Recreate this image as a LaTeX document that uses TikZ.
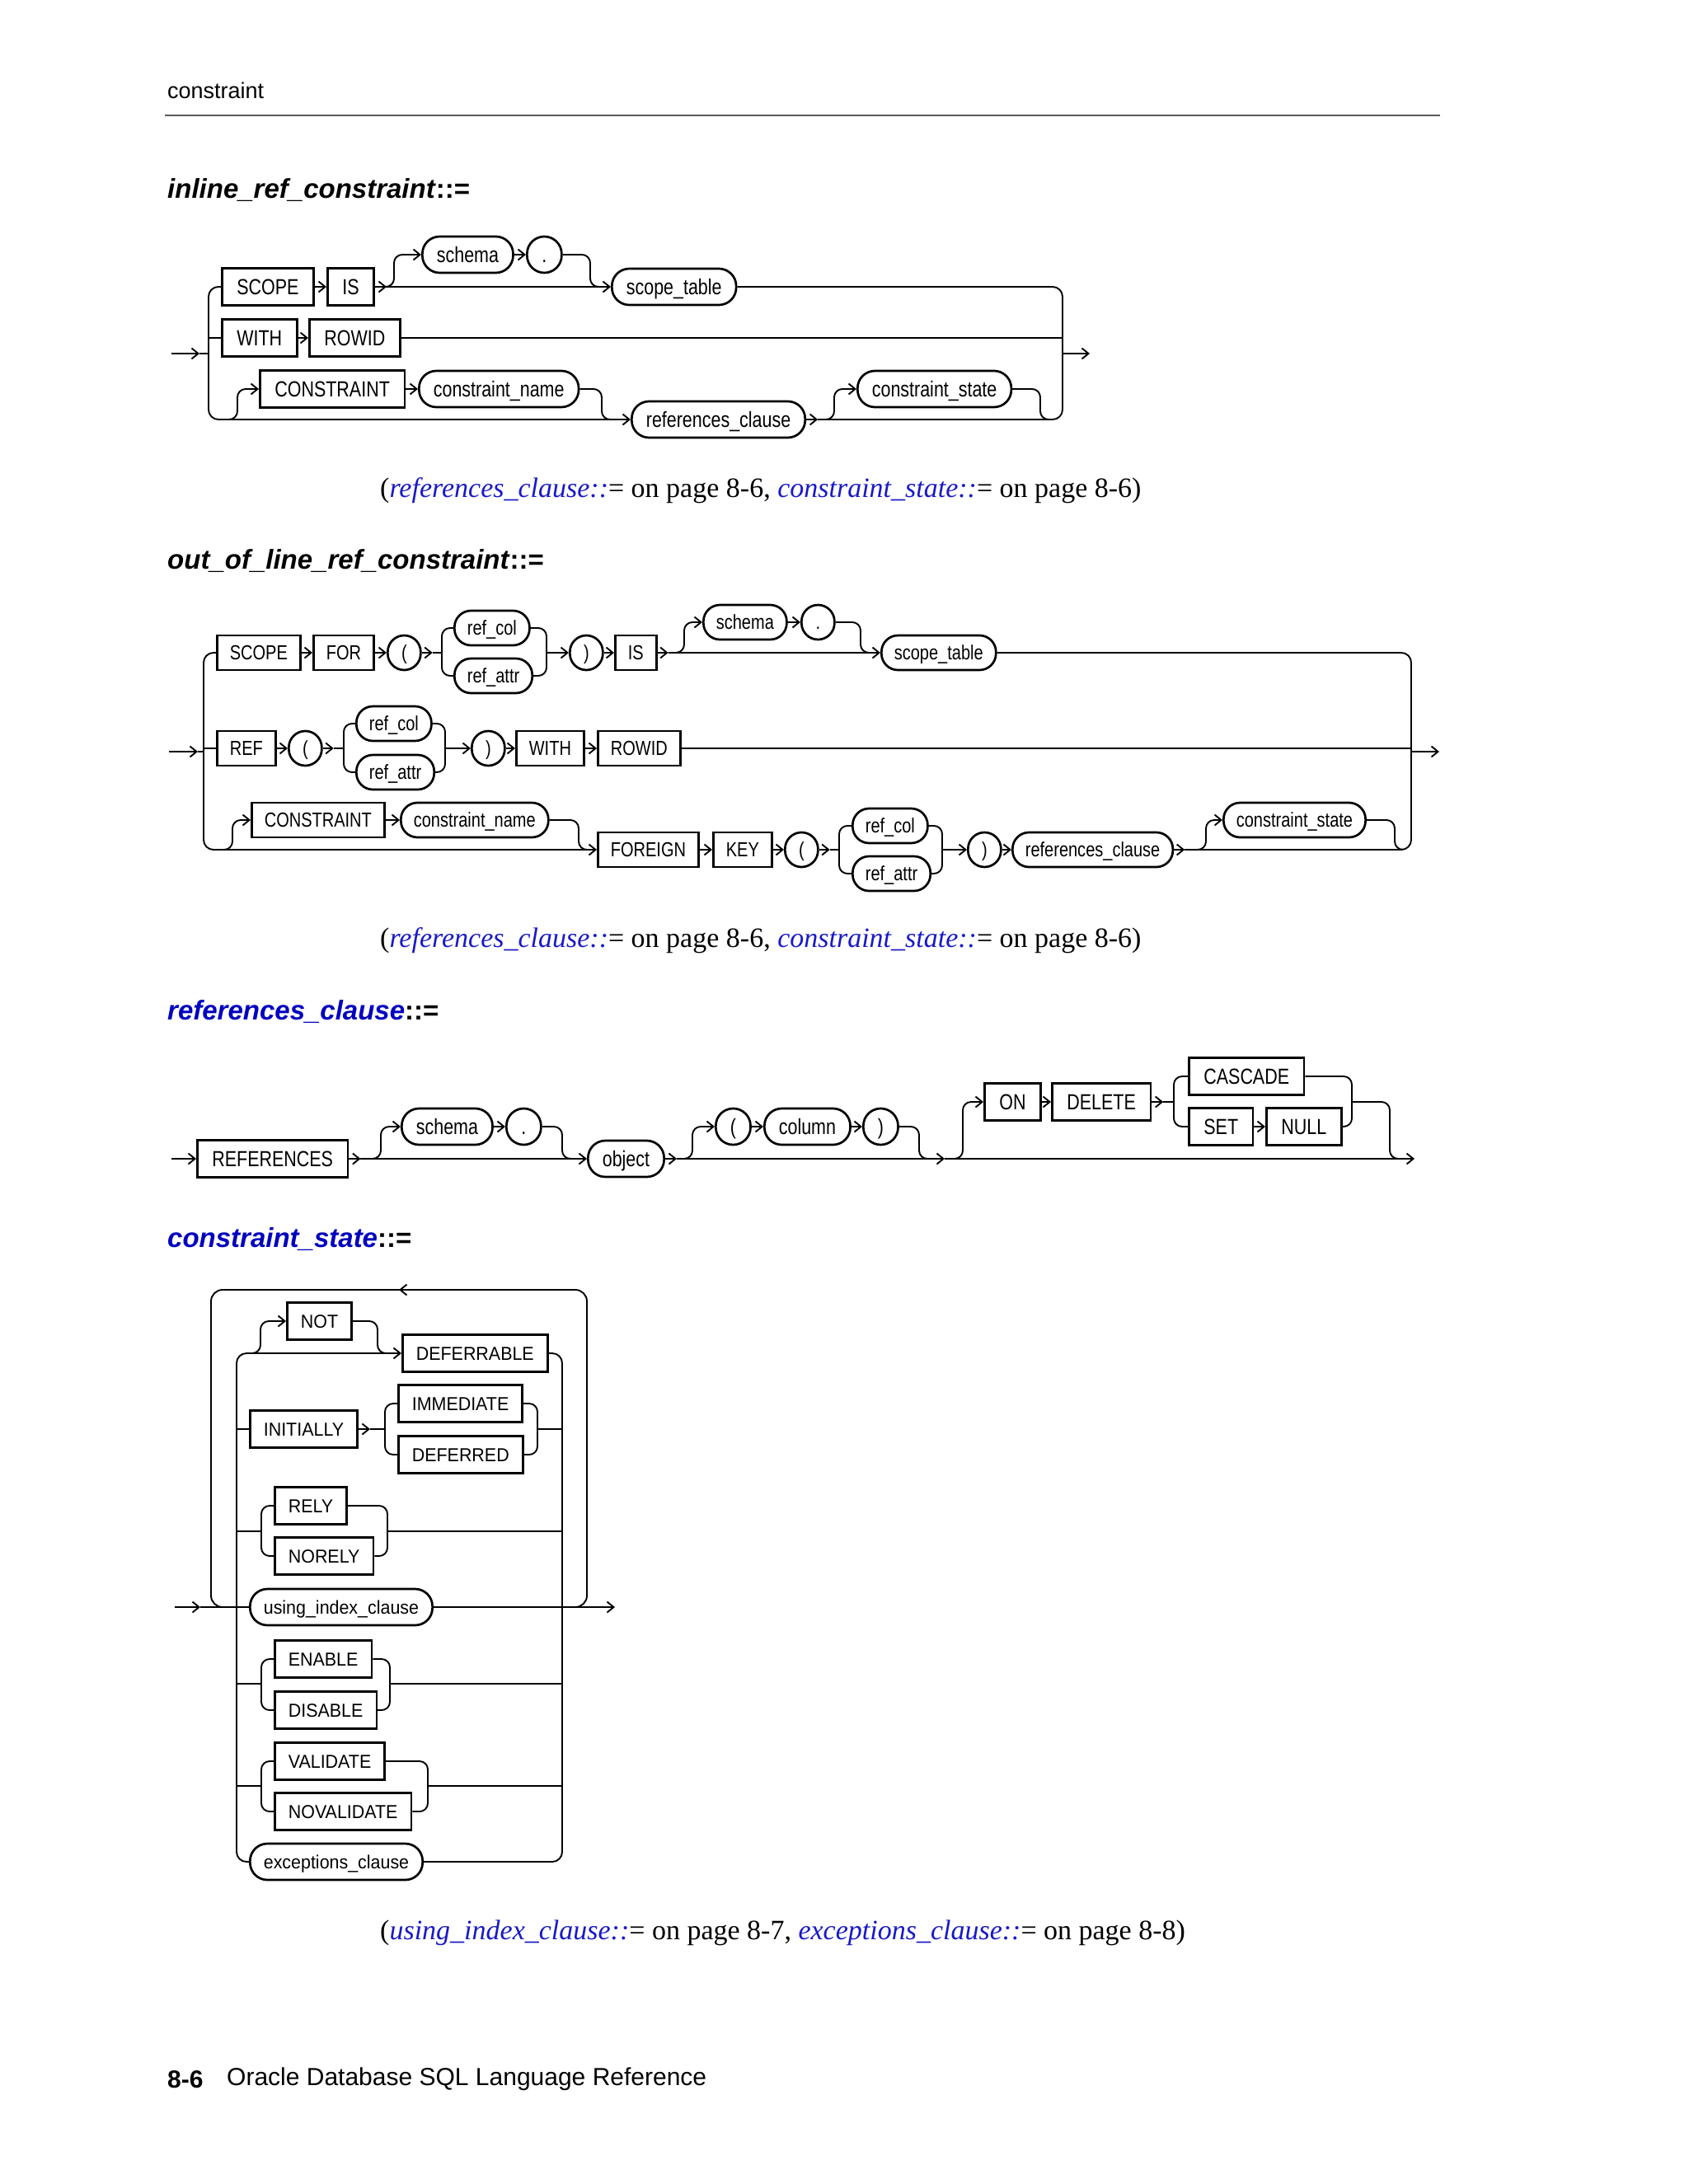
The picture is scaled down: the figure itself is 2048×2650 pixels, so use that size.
\documentclass[tikz,border=0pt]{standalone}
\usepackage{fontspec}
\setmainfont{Liberation Sans}
\newfontfamily\rrf{Liberation Sans}
\newfontfamily\rrc[FakeStretch=0.81]{Liberation Sans}
\newfontfamily\rrd[FakeStretch=0.94]{Liberation Sans}
\newfontfamily\serf{Liberation Serif}
\usetikzlibrary{arrows.meta}
\definecolor{lnk}{RGB}{25,25,200}
\definecolor{ttl}{RGB}{0,0,190}
\tikzset{
  rr/.style={line width=1.9pt, line join=round},
  arr/.style={-{Straight Barb[length=8pt,width=13pt]}},
  kw/.style={draw, rectangle, line width=2.7pt, inner xsep=18pt, inner ysep=0pt,
    minimum height=45pt, text height=24pt, text depth=5pt, anchor=west,
    font=\rrc\fontsize{26.5pt}{30pt}\selectfont},
  nt/.style={kw, inner xsep=17.5pt, rounded corners=21pt, minimum width=42pt, minimum height=44pt},
  kwb/.style={kw, inner xsep=15.5pt, minimum height=42pt, text height=22pt, text depth=4.5pt,
    font=\rrc\fontsize{24.7pt}{28pt}\selectfont},
  ntb/.style={kwb, rounded corners=20pt, minimum width=40pt},
  kwd/.style={kw, inner xsep=16.5pt, text height=20.5pt, text depth=4pt,
    font=\rrd\fontsize{22.8pt}{26pt}\selectfont},
  ntd/.style={kwd, rounded corners=21pt, minimum height=44pt},
  ttlnode/.style={anchor=west, inner sep=0pt, font=\rrf\bfseries\itshape\fontsize{33pt}{37pt}\selectfont},
  capnode/.style={anchor=west, inner sep=0pt, font=\serf\fontsize{34pt}{38pt}\selectfont},
}
\begin{document}
\begin{tikzpicture}[x=1pt,y=-1pt]
\useasboundingbox[fill=white] (0,0) rectangle (2048,2650);

% header
\node[anchor=west, inner sep=0pt, font=\rrf\fontsize{27pt}{30pt}\selectfont] (hdr) at (203,110) {constraint};
\coordinate (rulea) at (200,140); \coordinate (ruleb) at (1747,140);
\draw[line width=2.5pt, black!65] (rulea) -- (ruleb);

% ================= Section 1 =================
\node[ttlnode] (t1) at (203,231) {inline\_ref\_constraint\textup{::=}};
\node[kw] (s1scope) at (268,348) {SCOPE};
\node[kw] (s1is) at (396,348) {IS};
\node[nt] (s1schema) at (511,309) {schema};
\node[nt] (s1dot) at (638,309) {.};
\node[nt] (s1st) at (741,348) {scope\_table};
\node[kw] (s1with) at (268,410) {WITH};
\node[kw] (s1rowid) at (374,410) {ROWID};
\node[kw] (s1cons) at (314,472) {CONSTRAINT};
\node[nt] (s1cn) at (507,472) {constraint\_name};
\node[nt] (s1rc) at (765,509) {references\_clause};
\node[nt] (s1cs) at (1039,472) {constraint\_state};
\coordinate (s1in) at (208,429);
\coordinate (s1out) at (1322,429);
\coordinate (s1j1) at ([xshift=14pt]s1is.east);
\coordinate (s1j3) at ([xshift=14pt]s1rc.east);

\draw[rr,arr] (s1in) -- (242,429);
\draw[rr] (242,429) -- (253,429);
\draw[rr,arr,rounded corners=12pt] (s1scope.west) -- (253,348) -- (253,509) -- (s1rc.west);
\draw[rr] (253,410) -- (s1with.west);
\draw[rr,arr] (s1scope) -- (s1is);
\draw[rr,arr] (s1is.east) -- (s1j1);
\draw[rr,arr] (s1j1) -- (s1st.west);
\draw[rr,arr,rounded corners=10pt] (s1j1) -- (478,348) -- (478,309) -- (s1schema.west);
\draw[rr,arr] (s1schema) -- (s1dot);
\draw[rr,rounded corners=10pt] (s1dot.east) -- (716,309) -- (716,348) -- (730,348);
\draw[rr,rounded corners=12pt] (s1st.east) -- (1289,348) -- (1289,509) -- (s1j3);
\draw[rr,arr] (s1with) -- (s1rowid);
\draw[rr] (s1rowid.east) -- (1289,410);
\draw[rr,arr] (1289,429) -- (s1out);
\draw[rr,arr,rounded corners=10pt] (268,509) -- (288,509) -- (288,472) -- (s1cons.west);
\draw[rr,arr] (s1cons) -- (s1cn);
\draw[rr,rounded corners=10pt] (s1cn.east) -- (730,472) -- (730,509) -- (745,509);
\draw[rr,arr] (s1rc.east) -- (s1j3);
\draw[rr,arr,rounded corners=10pt] (s1j3) -- (1012,509) -- (1012,472) -- (s1cs.west);
\draw[rr,rounded corners=10pt] (s1cs.east) -- (1262,472) -- (1262,509) -- (1276,509);

\node[capnode] (cap1) at (461,595) {(\textcolor{lnk}{\itshape references\_clause::}= on page 8-6, \textcolor{lnk}{\itshape constraint\_state::}= on page 8-6)};

% ================= Section 2 =================
\node[ttlnode] (t2) at (203,681) {out\_of\_line\_ref\_constraint\textup{::=}};
\node[kwb] (s2scope) at (262,792) {SCOPE};
\node[kwb] (s2for) at (379,792) {FOR};
\node[ntb] (s2lp) at (469,792) {(};
\node[ntb] (s2rc1) at (550,762) {ref\_col};
\node[ntb] (s2ra1) at (550,820) {ref\_attr};
\node[ntb] (s2rp) at (690,792) {)};
\node[kwb] (s2is) at (745,792) {IS};
\node[ntb] (s2schema) at (852,755) {schema};
\node[ntb] (s2dot) at (971,755) {.};
\node[ntb] (s2st) at (1068,792) {scope\_table};
\node[kwb] (s2ref) at (262,908) {REF};
\node[ntb] (s2lp2) at (349,908) {(};
\node[ntb] (s2rc2) at (431,878) {ref\_col};
\node[ntb] (s2ra2) at (431,937) {ref\_attr};
\node[ntb] (s2rp2) at (571,908) {)};
\node[kwb] (s2with) at (625,908) {WITH};
\node[kwb] (s2rowid) at (724,908) {ROWID};
\node[kwb] (s2cons) at (304,995) {CONSTRAINT};
\node[ntb] (s2cn) at (485,995) {constraint\_name};
\node[kwb] (s2foreign) at (724,1031) {FOREIGN};
\node[kwb] (s2key) at (864,1031) {KEY};
\node[ntb] (s2lp3) at (951,1031) {(};
\node[ntb] (s2rc3) at (1033,1002) {ref\_col};
\node[ntb] (s2ra3) at (1033,1060) {ref\_attr};
\node[ntb] (s2rp3) at (1173,1031) {)};
\node[ntb] (s2refc) at (1227,1031) {references\_clause};
\node[ntb] (s2cs) at (1483,995) {constraint\_state};
\coordinate (s2in) at (205,912);
\coordinate (s2out) at (1746,912);
\coordinate (s2j1) at ([xshift=13pt]s2lp.east);
\coordinate (s2j2) at ([xshift=13pt]s2is.east);
\coordinate (s2j3) at ([xshift=13pt]s2lp2.east);
\coordinate (s2j5) at ([xshift=13pt]s2lp3.east);
\coordinate (s2j4) at ([xshift=13pt]s2refc.east);

\draw[rr,arr] (s2in) -- (240,912);
\draw[rr] (240,912) -- (247,912);
\draw[rr,arr,rounded corners=12pt] (s2scope.west) -- (247,792) -- (247,1031) -- (s2foreign.west);
\draw[rr] (247,908) -- (s2ref.west);
% row 1
\draw[rr,arr] (s2scope) -- (s2for);
\draw[rr,arr] (s2for) -- (s2lp);
\draw[rr,arr] (s2lp.east) -- (s2j1);
\draw[rr] (s2j1) -- (536,792);
\draw[rr,rounded corners=10pt] (s2rc1.west) -- (536,762) -- (536,820) -- (s2ra1.west);
\draw[rr,rounded corners=10pt] (s2rc1.east) -- (663,762) -- (663,820) -- (s2ra1.east);
\draw[rr,arr] (663,792) -- (s2rp.west);
\draw[rr,arr] (s2rp) -- (s2is);
\draw[rr,arr] (s2is.east) -- (s2j2);
\draw[rr,arr] (s2j2) -- (s2st.west);
\draw[rr,arr,rounded corners=10pt] (s2j2) -- (830,792) -- (830,755) -- (s2schema.west);
\draw[rr,arr] (s2schema) -- (s2dot);
\draw[rr,rounded corners=10pt] (s2dot.east) -- (1044,755) -- (1044,792) -- (1056,792);
\draw[rr,rounded corners=12pt] (s2st.east) -- (1712,792) -- (1712,1031) -- (s2j4);
% row 2
\draw[rr,arr] (s2ref) -- (s2lp2);
\draw[rr,arr] (s2lp2.east) -- (s2j3);
\draw[rr] (s2j3) -- (417,908);
\draw[rr,rounded corners=10pt] (s2rc2.west) -- (417,878) -- (417,937) -- (s2ra2.west);
\draw[rr,rounded corners=10pt] (s2rc2.east) -- (540,878) -- (540,937) -- (s2ra2.east);
\draw[rr,arr] (540,908) -- (s2rp2.west);
\draw[rr,arr] (s2rp2) -- (s2with);
\draw[rr,arr] (s2with) -- (s2rowid);
\draw[rr] (s2rowid.east) -- (1712,908);
\draw[rr,arr] (1712,912) -- (s2out);
% row 3
\draw[rr,arr,rounded corners=10pt] (262,1031) -- (282,1031) -- (282,995) -- (s2cons.west);
\draw[rr,arr] (s2cons) -- (s2cn);
\draw[rr,rounded corners=10pt] (s2cn.east) -- (702,995) -- (702,1031) -- (714,1031);
\draw[rr,arr] (s2foreign) -- (s2key);
\draw[rr,arr] (s2key) -- (s2lp3);
\draw[rr,arr] (s2lp3.east) -- (s2j5);
\draw[rr] (s2j5) -- (1018,1031);
\draw[rr,rounded corners=10pt] (s2rc3.west) -- (1018,1002) -- (1018,1060) -- (s2ra3.west);
\draw[rr,rounded corners=10pt] (s2rc3.east) -- (1143,1002) -- (1143,1060) -- (s2ra3.east);
\draw[rr,arr] (1143,1031) -- (s2rp3.west);
\draw[rr,arr] (s2rp3) -- (s2refc);
\draw[rr,arr] (s2refc.east) -- (s2j4);
\draw[rr,arr,rounded corners=10pt] (s2j4) -- (1463,1031) -- (1463,995) -- (s2cs.west);
\draw[rr,rounded corners=10pt] (s2cs.east) -- (1692,995) -- (1692,1031) -- (1702,1031);

\node[capnode] (cap2) at (461,1141) {(\textcolor{lnk}{\itshape references\_clause::}= on page 8-6, \textcolor{lnk}{\itshape constraint\_state::}= on page 8-6)};

% ================= Section 3 =================
\node[ttlnode] (t3) at (203,1228) {\textcolor{ttl}{references\_clause}\textup{::=}};
\node[kw] (s3refs) at (238,1406) {REFERENCES};
\node[nt] (s3schema) at (486,1367) {schema};
\node[nt] (s3dot) at (613,1367) {.};
\node[nt] (s3obj) at (712,1406) {object};
\node[nt] (s3lp) at (867,1367) {(};
\node[nt] (s3col) at (926,1367) {column};
\node[nt] (s3rp) at (1046,1367) {)};
\node[kw] (s3on) at (1193,1337) {ON};
\node[kw] (s3del) at (1275,1337) {DELETE};
\node[kw] (s3cas) at (1441,1306) {CASCADE};
\node[kw] (s3set) at (1441,1367) {SET};
\node[kw] (s3null) at (1535,1367) {NULL};
\coordinate (s3in) at (208,1406);
\coordinate (s3out) at (1716,1406);
\coordinate (s3j1) at ([xshift=14pt]s3refs.east);
\coordinate (s3j2) at ([xshift=14pt]s3obj.east);
\coordinate (s3j4) at (1146,1406);
\coordinate (s3j3) at ([xshift=14pt]s3del.east);

\draw[rr,arr] (s3in) -- (s3refs.west);
\draw[rr,arr] (s3refs.east) -- (s3j1);
\draw[rr,arr] (s3j1) -- (s3obj.west);
\draw[rr,arr,rounded corners=10pt] (s3j1) -- (462,1406) -- (462,1367) -- (s3schema.west);
\draw[rr,arr] (s3schema) -- (s3dot);
\draw[rr,rounded corners=10pt] (s3dot.east) -- (682,1367) -- (682,1406) -- (695,1406);
\draw[rr,arr] (s3obj.east) -- (s3j2);
\draw[rr,arr,rounded corners=10pt] (s3j2) -- (840,1406) -- (840,1367) -- (s3lp.west);
\draw[rr,arr] (s3lp) -- (s3col);
\draw[rr,arr] (s3col) -- (s3rp);
\draw[rr,rounded corners=10pt] (s3rp.east) -- (1115,1367) -- (1115,1406) -- (1128,1406);
\draw[rr,arr] (s3j2) -- (s3j4);
\draw[rr,arr] (s3j4) -- (s3out);
\draw[rr,arr,rounded corners=10pt] (s3j4) -- (1168,1406) -- (1168,1337) -- (s3on.west);
\draw[rr,arr] (s3on) -- (s3del);
\draw[rr,arr] (s3del.east) -- (s3j3);
\draw[rr] (s3j3) -- (1424,1337);
\draw[rr,rounded corners=10pt] (s3cas.west) -- (1424,1306) -- (1424,1367) -- (s3set.west);
\draw[rr,arr] (s3set) -- (s3null);
\draw[rr,rounded corners=10pt] (s3cas.east) -- (1640,1306) -- (1640,1367) -- (s3null.east);
\draw[rr,rounded corners=10pt] (1640,1337) -- (1686,1337) -- (1686,1406) -- (1700,1406);

% ================= Section 4 =================
\node[ttlnode] (t4) at (203,1504) {\textcolor{ttl}{constraint\_state}\textup{::=}};
\node[kwd] (s4not) at (347,1603) {NOT};
\node[kwd] (s4def) at (487,1642) {DEFERRABLE};
\node[kwd] (s4init) at (302,1734) {INITIALLY};
\node[kwd] (s4imm) at (482,1703) {IMMEDIATE};
\node[kwd] (s4dfd) at (482,1765) {DEFERRED};
\node[kwd] (s4rely) at (332,1827) {RELY};
\node[kwd] (s4norely) at (332,1888) {NORELY};
\node[ntd] (s4uic) at (302,1950) {using\_index\_clause};
\node[kwd] (s4en) at (332,2013) {ENABLE};
\node[kwd] (s4dis) at (332,2075) {DISABLE};
\node[kwd] (s4val) at (332,2137) {VALIDATE};
\node[kwd] (s4noval) at (332,2198) {NOVALIDATE};
\node[ntd] (s4exc) at (302,2259) {exceptions\_clause};
\coordinate (s4in) at (212,1950);
\coordinate (s4out) at (746,1950);
\coordinate (s4j1) at ([xshift=14pt]s4init.east);

\draw[rr,arr] (s4in) -- (243,1950);
\draw[rr] (243,1950) -- (s4uic.west);
\draw[rr,arr] (s4uic.east) -- (s4out);
\draw[rr,rounded corners=14pt] (690,1950) -- (712,1950) -- (712,1565) -- (256,1565) -- (256,1950) -- (275,1950);
\draw[rr,arr] (500,1565) -- (484,1565);
\draw[rr,arr,rounded corners=12pt] (s4exc.west) -- (287,2259) -- (287,1642) -- (s4def.west);
\draw[rr,rounded corners=12pt] (s4def.east) -- (682,1642) -- (682,2259) -- (s4exc.east);
\draw[rr,arr,rounded corners=10pt] (300,1642) -- (316,1642) -- (316,1603) -- (s4not.west);
\draw[rr,rounded corners=10pt] (s4not.east) -- (458,1603) -- (458,1642) -- (470,1642);
% initially
\draw[rr] (287,1734) -- (s4init.west);
\draw[rr,arr] (s4init.east) -- (s4j1);
\draw[rr] (s4j1) -- (467,1734);
\draw[rr,rounded corners=10pt] (s4imm.west) -- (467,1703) -- (467,1765) -- (s4dfd.west);
\draw[rr,rounded corners=10pt] (s4imm.east) -- (652,1703) -- (652,1765) -- (s4dfd.east);
\draw[rr] (652,1734) -- (682,1734);
% rely
\draw[rr] (287,1858) -- (317,1858);
\draw[rr,rounded corners=10pt] (s4rely.west) -- (317,1827) -- (317,1888) -- (s4norely.west);
\draw[rr,rounded corners=10pt] (s4rely.east) -- (470,1827) -- (470,1888) -- (s4norely.east);
\draw[rr] (470,1858) -- (682,1858);
% enable
\draw[rr] (287,2043) -- (317,2043);
\draw[rr,rounded corners=10pt] (s4en.west) -- (317,2013) -- (317,2075) -- (s4dis.west);
\draw[rr,rounded corners=10pt] (s4en.east) -- (473,2013) -- (473,2075) -- (s4dis.east);
\draw[rr] (473,2043) -- (682,2043);
% validate
\draw[rr] (287,2167) -- (317,2167);
\draw[rr,rounded corners=10pt] (s4val.west) -- (317,2137) -- (317,2198) -- (s4noval.west);
\draw[rr,rounded corners=10pt] (s4val.east) -- (519,2137) -- (519,2198) -- (s4noval.east);
\draw[rr] (519,2167) -- (682,2167);

\node[capnode] (cap3) at (461,2345) {(\textcolor{lnk}{\itshape using\_index\_clause::}= on page 8-7, \textcolor{lnk}{\itshape exceptions\_clause::}= on page 8-8)};

% footer
\node[anchor=west, inner sep=0pt, font=\rrf\bfseries\fontsize{30pt}{34pt}\selectfont] (pg) at (203,2523) {8-6};
\node[anchor=west, inner sep=0pt, font=\rrf\fontsize{30pt}{34pt}\selectfont] (ft) at (275,2523) {Oracle Database SQL Language Reference};
\end{tikzpicture}
\end{document}
